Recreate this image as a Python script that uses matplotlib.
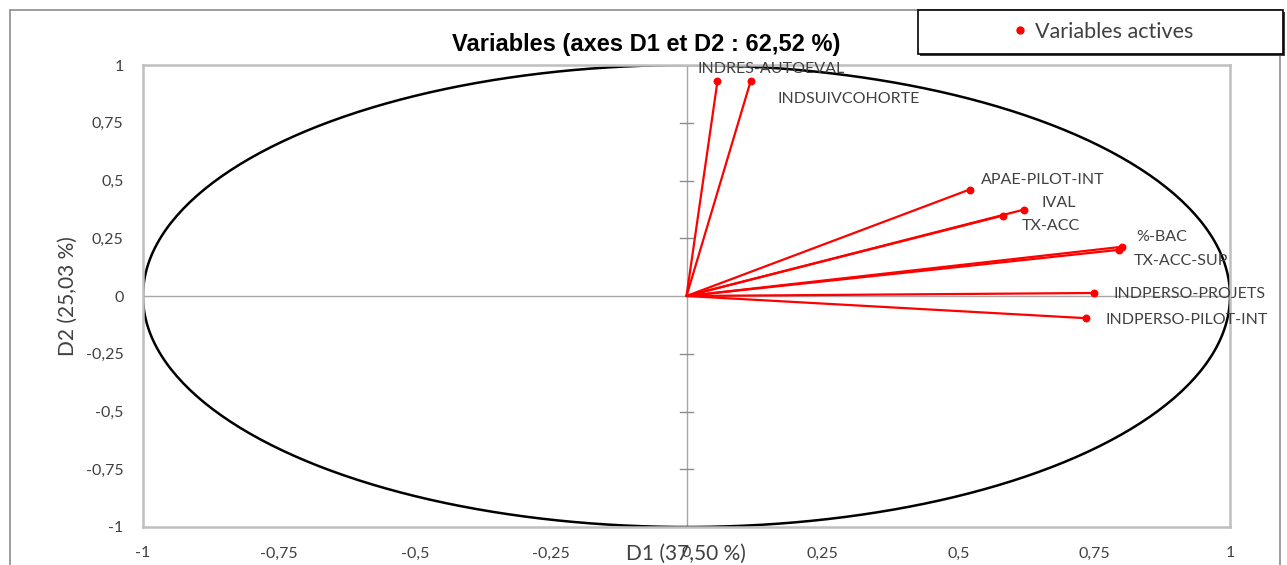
import numpy as np
import matplotlib
matplotlib.use("Agg")
import matplotlib.pyplot as plt
from matplotlib.patches import Rectangle
from matplotlib.lines import Line2D

# ---- data ----
variables = ["INDRES-AUTOEVAL", "INDSUIVCOHORTE", "APAE-PILOT-INT", "IVAL", "TX-ACC",
             "%-BAC", "TX-ACC-SUP", "INDPERSO-PROJETS", "INDPERSO-PILOT-INT"]
d1 = [0.057, 0.118, 0.521, 0.621, 0.582, 0.801, 0.796, 0.750, 0.735]
d2 = [0.930, 0.930, 0.461, 0.374, 0.348, 0.213, 0.200, 0.013, -0.096]
ticks = [-1, -0.75, -0.5, -0.25, 0, 0.25, 0.5, 0.75, 1]
tick_labels = ["-1", "-0,75", "-0,5", "-0,25", "0", "0,25", "0,5", "0,75", "1"]
title = "Variables (axes D1 et D2 : 62,52 %)"
xlabel = "D1 (37,50 %)"
ylabel = "D2 (25,03 %)"
legend_label = "Variables actives"

# label offsets in pixels (style/position)
label_offsets = [(-20, 12), (27, -18), (11, 10), (17, 7), (19, -10),
                 (14, 10), (15, -11), (19, -1), (20, -2)]

W, H = 1287, 565
fig = plt.figure(figsize=(W / 100, H / 100), dpi=100)
fig.patch.set_facecolor("white")

font = ["Lato", "DejaVu Sans"]
txtc = "#404040"

# outer frame
fig.add_artist(Rectangle((10 / W, -0.01), (1280 - 10) / W, 1 - 10 / H + 0.01,
                         transform=fig.transFigure, fill=False, ec="#8C8C8C", lw=1.2))

ax = fig.add_axes([143 / W, 1 - 527 / H, (1230 - 143) / W, (527 - 65) / H])
ax.set_xlim(-1, 1)
ax.set_ylim(-1, 1)
for s in ax.spines.values():
    s.set_color("#BFBFBF")
    s.set_linewidth(1.8)

ax.set_xticks(ticks)
ax.set_xticklabels(tick_labels, family=font, fontsize=11.5, color=txtc)
ax.set_yticks(ticks)
ax.set_yticklabels(tick_labels, family=font, fontsize=11.5, color=txtc)
ax.tick_params(axis="both", length=0)
ax.tick_params(axis="x", pad=14)
ax.tick_params(axis="y", pad=14)

# zero axes
ax.axhline(0, color="#A6A6A6", lw=1, zorder=1)
ax.axvline(0, color="#A6A6A6", lw=1, zorder=1)
for t in ticks:
    if t not in (-1, 0, 1):
        ax.plot([-0.012, 0.012], [t, t], color="#8C8C8C", lw=1, zorder=1)

# correlation circle
th = np.linspace(0, 2 * np.pi, 400)
ax.plot(np.cos(th), np.sin(th), color="black", lw=1.8, zorder=2)

# vectors
for x, y in zip(d1, d2):
    ax.plot([0, x], [0, y], color="#FF0000", lw=1.6, zorder=3, solid_capstyle="round")
ax.scatter(d1, d2, s=22, color="#FF0000", zorder=4)

for name, x, y, (ox, oy) in zip(variables, d1, d2, label_offsets):
    ax.annotate(name, (x, y), xytext=(ox, oy), textcoords="offset pixels",
                ha="left", va="center", family=font, fontsize=11.5, color=txtc,
                zorder=5, annotation_clip=False)

# axis titles
fig.text(68 / W, 1 - 296 / H, ylabel, rotation=90, ha="center", va="center",
         family=font, fontsize=15, color=txtc)
fig.text(686 / W, 1 - 554 / H, xlabel, ha="center", va="center",
         family=font, fontsize=15, color=txtc)

# title
fig.text(646 / W, 1 - 44 / H, title, ha="center", va="center",
         family=["Liberation Sans Narrow", "Liberation Sans", "DejaVu Sans"],
         fontsize=17, fontweight="bold", color="black")

# legend box
lx0, lx1, ly0, ly1 = 918, 1283, 10, 54
fig.add_artist(Rectangle((lx0 / W + 0.0015, 1 - ly1 / H - 0.003), (lx1 - lx0) / W, (ly1 - ly0) / H,
                         transform=fig.transFigure, fill=True, fc="#404040", ec="none", zorder=9))
fig.add_artist(Rectangle((lx0 / W, 1 - ly1 / H), (lx1 - lx0) / W, (ly1 - ly0) / H,
                         transform=fig.transFigure, fill=True, fc="white", ec="black", lw=1.2, zorder=10))
handle = Line2D([], [], marker="o", ls="none", color="#FF0000", markersize=5)
leg = fig.legend([handle], [legend_label], loc="center",
                 bbox_to_anchor=((lx0 + lx1) / 2 / W, 1 - (ly0 + ly1) / 2 / H),
                 frameon=False, handletextpad=0.1, handlelength=1.2,
                 prop={"family": font, "size": 15.5})
leg.set_zorder(11)
for t in leg.get_texts():
    t.set_color(txtc)

fig.savefig("out.png", dpi=100)
